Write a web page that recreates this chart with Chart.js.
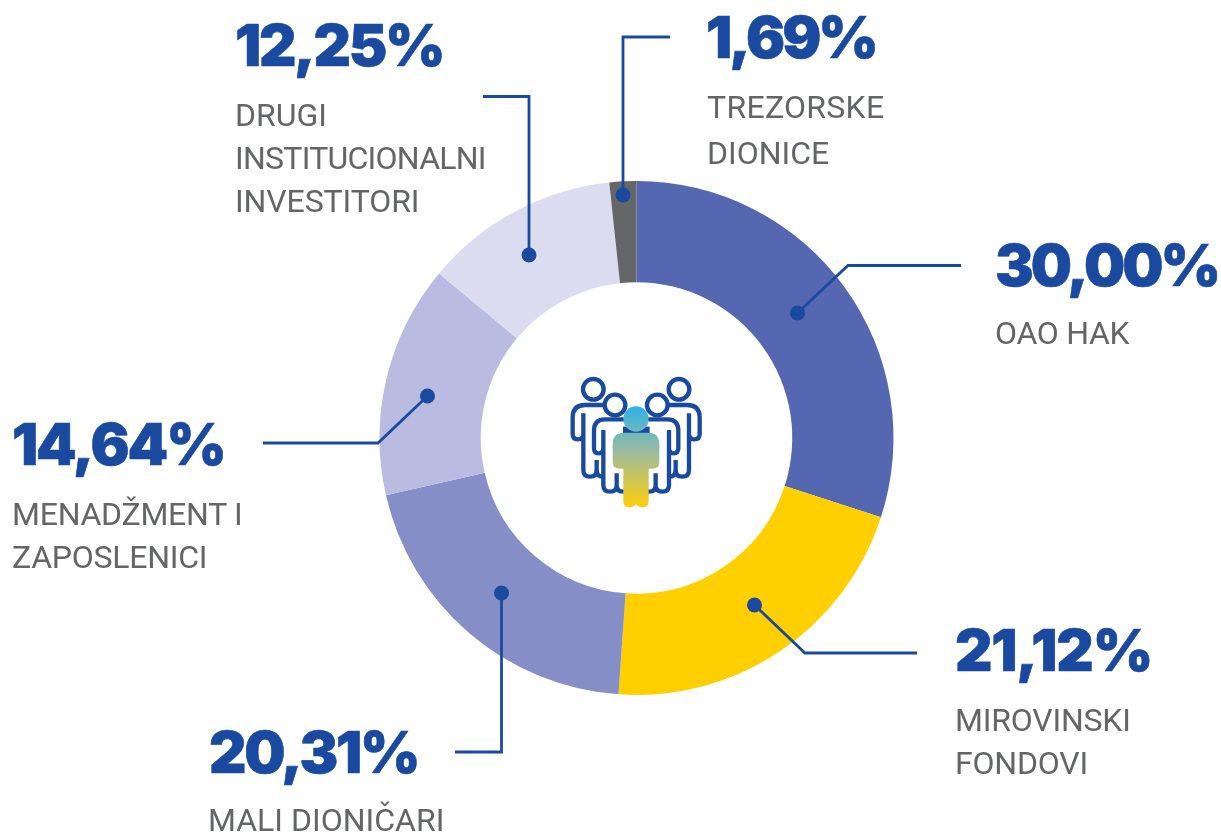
<!DOCTYPE html>
<html><head><meta charset="utf-8">
<style>
html,body{margin:0;padding:0;background:#fff;width:1221px;height:834px;overflow:hidden}
#wrap{position:absolute;left:0;top:0;width:1221px;height:834px}
.v{position:absolute;font:900 58px/58px Inter,Roboto,sans-serif;color:#1A4A9F;white-space:nowrap;letter-spacing:-2.1px;-webkit-text-stroke:.6px #1A4A9F}
.l{position:absolute;font:400 32px/32px Roboto,sans-serif;color:#646567;white-space:nowrap}
svg{position:absolute;left:550px;top:360px}
</style></head><body>
<div id="wrap"><canvas id="c" width="1221" height="834"></canvas>
<svg width="170" height="160" viewBox="0 0 510 480">
<defs><linearGradient id="g" gradientUnits="userSpaceOnUse" x1="0" y1="140" x2="0" y2="442"><stop offset="0" stop-color="#2FB1E4"/><stop offset=".45" stop-color="#9DBCA0"/><stop offset="1" stop-color="#FFCE0A"/></linearGradient></defs>
<g id="p" fill="none" stroke="#1A4A9F" stroke-width="13">
<circle cx="130" cy="88" r="31" /><path d="M170 135H105Q68 135 68 172V222Q68 238 84 238Q100 238 100 222V160M100 222V330Q100 350 120 350Q140 350 140 330V300"/>
<path d="M140 330Q140 350 160 350"/>
<circle cx="195" cy="135" r="31" fill="#fff"/><path fill="#fff" d="M232 178H165Q132 178 132 212V265Q132 280 146 280Q160 280 160 265V210M160 265V375Q160 395 180 395Q200 395 200 375V340M200 375Q200 395 220 395H235V178"/>
</g>
<use href="#p" transform="matrix(-1 0 0 1 517 0)"/>
<rect x="219" y="200" width="80" height="24" fill="#1A4A9F"/>
<circle cx="258" cy="177" r="38" fill="url(#g)"/>
<path fill="url(#g)" d="M222 218H294Q328 218 328 252V305Q328 326 308 326H296V422Q296 442 277 442Q265 442 258 433Q251 442 239 442Q220 442 220 422V326H208Q188 326 188 305V252Q188 218 222 218Z"/>
</svg>
</div>
<script src="https://cdn.jsdelivr.net/npm/chart.js@4/dist/chart.umd.min.js"></script>
<script>
const categories=[["OAO HAK"],["MIROVINSKI","FONDOVI"],["MALI DIONIČARI"],["MENADŽMENT I","ZAPOSLENICI"],["DRUGI","INSTITUCIONALNI","INVESTITORI"],["TREZORSKE","DIONICE"]];
const values=[30.00,21.12,20.31,14.64,12.25,1.69];
const valueLabels=["30,00%","21,12%","20,31%","14,64%","12,25%","1,69%"];
const colors=["#5567B0","#FFCF00","#858EC6","#B9BCE0","#DCDCF0","#656668"];
const valueSpots=[[995,285],[955,670],[209,772],[12,464],[235,65],[706,57]];
const valueTrack=[-3,-1.2,-2.3,-2.1,-2.3,-3];
const labelSpots=[[995,344,43],[955,731,42.5],[208,831,43],[12,525,43],[235,126,43],[707,118,46]];
const labelTrack=[[-.3],[-.2,-.2],[0],[-.25,-.25],[0,-.75,-.1],[.3,0]];
const leaders=[
 [[961,265.5],[848,265.5],[797.5,313]],
 [[917,653],[805,653],[754.5,605]],
 [[455,752],[501.5,752],[501.5,593]],
 [[263,443],[378,443],[427.5,396]],
 [[483,96.5],[529,96.5],[529,255]],
 [[670,37],[623,37],[623,195]]
];
const leaderPlugin={id:"leaders",afterDatasetsDraw(ch){
 const x=ch.ctx;x.save();x.strokeStyle="#1A4A9F";x.fillStyle="#1A4A9F";x.lineWidth=2.8;
 leaders.forEach(p=>{x.beginPath();p.forEach((q,i)=>i?x.lineTo(q[0],q[1]):x.moveTo(q[0],q[1]));x.stroke();
  const e=p[p.length-1];x.beginPath();x.arc(e[0],e[1],7.5,0,Math.PI*2);x.fill();});
 x.restore();}};
new Chart(document.getElementById("c"),{type:"doughnut",
 data:{labels:categories.map(c=>c.join(" ")),datasets:[{data:values,backgroundColor:colors,borderWidth:0}]},
 options:{responsive:false,animation:false,cutout:"60.6%",
  layout:{padding:{left:379.5,right:327.5,top:181,bottom:139}},
  plugins:{legend:{display:false},tooltip:{enabled:false}}},
 plugins:[leaderPlugin]});
const wrap=document.getElementById("wrap");
const VS=58,LS=32;
valueLabels.forEach((t,i)=>{const d=document.createElement("div");d.className="v";d.textContent=t;
 d.style.letterSpacing=valueTrack[i]+"px";
 d.style.left=valueSpots[i][0]+"px";d.style.top=(valueSpots[i][1]-0.84*VS)+"px";wrap.appendChild(d);});
categories.forEach((ls,i)=>ls.forEach((t,j)=>{const d=document.createElement("div");d.className="l";d.textContent=t;
 const s=labelSpots[i];d.style.letterSpacing=labelTrack[i][j]+"px";d.style.left=s[0]+"px";d.style.top=(s[1]+j*s[2]-0.841*LS)+"px";wrap.appendChild(d);}));
</script></body></html>
